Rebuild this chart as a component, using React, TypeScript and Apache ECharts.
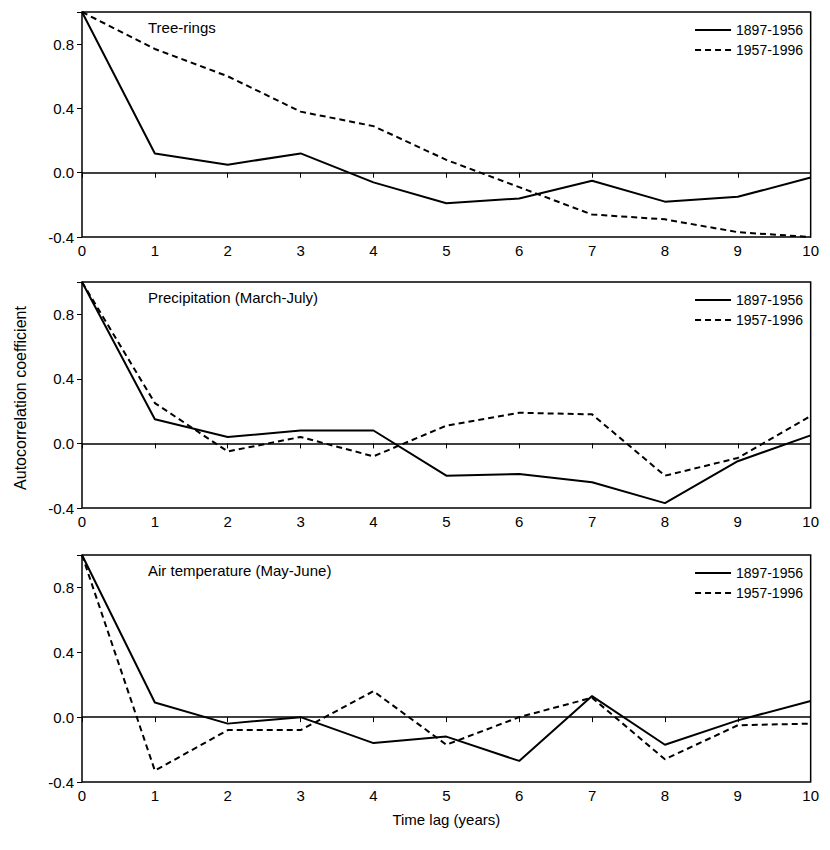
import React, { useEffect, useRef } from "react";
import * as echarts from "echarts";

const lags = [0, 1, 2, 3, 4, 5, 6, 7, 8, 9, 10];
const titles = ["Tree-rings", "Precipitation (March-July)", "Air temperature (May-June)"];
const seriesNames = ["1897-1956", "1957-1996"];
const treeEarly = [1.0, 0.12, 0.05, 0.12, -0.06, -0.19, -0.16, -0.05, -0.18, -0.15, -0.03];
const treeLate = [1.0, 0.77, 0.6, 0.38, 0.29, 0.08, -0.09, -0.26, -0.29, -0.37, -0.4];
const precEarly = [1.0, 0.15, 0.04, 0.08, 0.08, -0.2, -0.19, -0.24, -0.37, -0.11, 0.05];
const precLate = [1.0, 0.25, -0.05, 0.04, -0.08, 0.11, 0.19, 0.18, -0.2, -0.09, 0.17];
const tempEarly = [1.0, 0.09, -0.04, 0.0, -0.16, -0.12, -0.27, 0.13, -0.17, -0.02, 0.1];
const tempLate = [1.0, -0.33, -0.08, -0.08, 0.16, -0.17, 0.0, 0.12, -0.26, -0.05, -0.04];

const panels = [
  [treeEarly, treeLate],
  [precEarly, precLate],
  [tempEarly, tempLate],
];
const tops = [4, 274, 547];
const heights = [225, 226, 227];
const FONT = "Liberation Sans";

export default function App() {
  const ref = useRef<HTMLDivElement>(null);
  useEffect(() => {
    const chart = echarts.init(ref.current!, null, { renderer: "svg" });
    const grids = tops.map((t, i) => ({
      left: 74, top: t, width: 740, height: heights[i], show: true,
      borderColor: "#000", borderWidth: 1.5, backgroundColor: "transparent",
    }));
    const xAxes = tops.map((_, i) => ({
      type: "value", gridIndex: i, min: 0, max: 10, interval: 1,
      axisLine: { show: false }, splitLine: { show: false },
      axisTick: { show: true, length: 5, lineStyle: { color: "#000" } },
      axisLabel: { color: "#000", fontSize: 15, fontFamily: FONT, margin: 6 },
      name: i === 2 ? "Time lag (years)" : "", nameLocation: "middle", nameGap: 30,
      nameTextStyle: { color: "#000", fontSize: 15, fontFamily: FONT },
    }));
    const yAxes = tops.map((_, i) => ({
      type: "value", gridIndex: i, min: -0.4, max: 1.0, interval: 0.4,
      axisLine: { show: false }, splitLine: { show: false },
      axisTick: { show: true, length: 5, lineStyle: { color: "#000" } },
      axisLabel: {
        color: "#000", fontSize: 15, fontFamily: FONT, margin: 8,
        formatter: (v: number) => (Math.abs(v - 1) < 1e-6 ? "" : v.toFixed(1)),
      },
    }));
    const series: any[] = [];
    panels.forEach((p, i) => {
      p.forEach((vals, j) => {
        series.push({
          type: "line", name: seriesNames[j], xAxisIndex: i, yAxisIndex: i,
          data: lags.map((x, k) => [x, vals[k]]), symbol: "none",
          lineStyle: { color: "#000", width: 2, type: j === 0 ? "solid" : [6, 4] },
          itemStyle: { color: "#000" },
          markLine: j === 0 ? {
            silent: true, symbol: "none", label: { show: false },
            lineStyle: { color: "#000", width: 1.5, type: "solid" },
            data: [{ yAxis: 0 }],
          } : undefined,
        });
      });
    });
    const legends = tops.map((t) => ({
      data: seriesNames, orient: "vertical", right: 14, top: t + 6,
      itemWidth: 36, itemHeight: 10, itemGap: 6, selectedMode: false,
      itemStyle: { opacity: 0 },
      textStyle: { color: "#000", fontSize: 14, fontFamily: FONT },
    }));
    const graphic: any[] = titles.map((s, i) => ({
      type: "text", left: 140, top: tops[i] + 8,
      style: { text: s, fill: "#000", font: `15px ${FONT}` },
    }));
    graphic.push({
      type: "text", x: 12, y: 390, rotation: Math.PI / 2,
      style: {
        text: "Autocorrelation coefficient", fill: "#000", font: `16px ${FONT}`,
        align: "center", verticalAlign: "middle",
      },
    });
    chart.setOption({
      animation: false, grid: grids, xAxis: xAxes, yAxis: yAxes,
      series, legend: legends, graphic,
    });
    return () => chart.dispose();
  }, []);
  return <div ref={ref} style={{ width: 814, height: 834 }} />;
}
